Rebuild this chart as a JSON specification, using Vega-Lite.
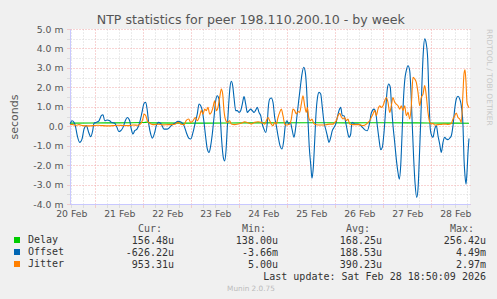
{
  "$schema": "https://vega.github.io/schema/vega-lite/v6.json",
  "background": "#f0f0f0",
  "padding": {"left": 8, "top": 14, "right": 5, "bottom": 4},
  "config": {"view": {"stroke": null}, "font": "DejaVu Sans"},
  "title": {"text": "NTP statistics for peer 198.110.200.10 - by week", "fontSize": 12.6, "fontWeight": "normal", "color": "#555555", "font": "DejaVu Sans", "anchor": "middle", "frame": "bounds", "offset": -2},
  "spacing": 19,
  "bounds": "flush",
  "resolve": {"scale": {"color": "independent"}, "legend": {"color": "independent"}},
  "datasets": {
    "series": [
      {"s": "Delay", "h": 11.35, "v": 0.16}, {"s": "Delay", "h": 30, "v": 0.17}, {"s": "Delay", "h": 48, "v": 0.19}, {"s": "Delay", "h": 50, "v": 0.21}, {"s": "Delay", "h": 52, "v": 0.17}, {"s": "Delay", "h": 80, "v": 0.16}, {"s": "Delay", "h": 100, "v": 0.17}, {"s": "Delay", "h": 130, "v": 0.18}, {"s": "Delay", "h": 150, "v": 0.17}, {"s": "Delay", "h": 170, "v": 0.18}, {"s": "Delay", "h": 185, "v": 0.17}, {"s": "Delay", "h": 200, "v": 0.16}, {"s": "Delay", "h": 210.85, "v": 0.156},

      {"s": "Offset", "h": 11.4, "v": 0.11}, {"s": "Offset", "h": 12.35, "v": 0.28}, {"s": "Offset", "h": 13.35, "v": 0.2}, {"s": "Offset", "h": 14.0, "v": 0.03}, {"s": "Offset", "h": 15.0, "v": -0.49}, {"s": "Offset", "h": 16.2, "v": -0.83}, {"s": "Offset", "h": 17.35, "v": -0.66}, {"s": "Offset", "h": 18.35, "v": -0.15}, {"s": "Offset", "h": 19.5, "v": 0.03}, {"s": "Offset", "h": 20.7, "v": -0.32}, {"s": "Offset", "h": 21.7, "v": -0.54}, {"s": "Offset", "h": 22.7, "v": -0.23}, {"s": "Offset", "h": 23.35, "v": 0.15}, {"s": "Offset", "h": 24.5, "v": 0.2}, {"s": "Offset", "h": 25.85, "v": 0.28}, {"s": "Offset", "h": 27.0, "v": 0.54}, {"s": "Offset", "h": 27.85, "v": 0.59}, {"s": "Offset", "h": 28.7, "v": 0.28}, {"s": "Offset", "h": 29.85, "v": 0.32}, {"s": "Offset", "h": 31.2, "v": 0.28}, {"s": "Offset", "h": 32.0, "v": 0.2}, {"s": "Offset", "h": 33.7, "v": 0.15}, {"s": "Offset", "h": 34.85, "v": -0.06}, {"s": "Offset", "h": 35.7, "v": -0.27}, {"s": "Offset", "h": 36.7, "v": -0.23}, {"s": "Offset", "h": 37.85, "v": -0.06}, {"s": "Offset", "h": 39.0, "v": 0.28}, {"s": "Offset", "h": 40.0, "v": 0.45}, {"s": "Offset", "h": 41.2, "v": 0.28}, {"s": "Offset", "h": 42.0, "v": -0.15}, {"s": "Offset", "h": 42.85, "v": -0.4}, {"s": "Offset", "h": 43.7, "v": -0.23}, {"s": "Offset", "h": 44.85, "v": -0.15}, {"s": "Offset", "h": 46.2, "v": 0.2}, {"s": "Offset", "h": 47.35, "v": 0.71}, {"s": "Offset", "h": 48.35, "v": 1.17}, {"s": "Offset", "h": 49.2, "v": 1.23}, {"s": "Offset", "h": 50.0, "v": 0.8}, {"s": "Offset", "h": 50.85, "v": 0.03}, {"s": "Offset", "h": 51.7, "v": -0.4}, {"s": "Offset", "h": 52.5, "v": -0.61}, {"s": "Offset", "h": 53.7, "v": -0.32}, {"s": "Offset", "h": 54.5, "v": 0.03}, {"s": "Offset", "h": 55.7, "v": 0.2}, {"s": "Offset", "h": 57.0, "v": 0.11}, {"s": "Offset", "h": 58.35, "v": -0.15}, {"s": "Offset", "h": 60.0, "v": -0.15}, {"s": "Offset", "h": 61.2, "v": -0.06}, {"s": "Offset", "h": 62.0, "v": 0.03}, {"s": "Offset", "h": 63.7, "v": 0.15}, {"s": "Offset", "h": 65.35, "v": 0.25}, {"s": "Offset", "h": 67.0, "v": 0.2}, {"s": "Offset", "h": 68.35, "v": 0.03}, {"s": "Offset", "h": 69.5, "v": -0.32}, {"s": "Offset", "h": 70.7, "v": -0.61}, {"s": "Offset", "h": 71.7, "v": -0.66}, {"s": "Offset", "h": 72.85, "v": -0.32}, {"s": "Offset", "h": 74.0, "v": 0.2}, {"s": "Offset", "h": 75.0, "v": 0.63}, {"s": "Offset", "h": 75.85, "v": 1.14}, {"s": "Offset", "h": 76.7, "v": 1.05}, {"s": "Offset", "h": 77.5, "v": 0.8}, {"s": "Offset", "h": 78.35, "v": 0.2}, {"s": "Offset", "h": 79.2, "v": -0.57}, {"s": "Offset", "h": 80.0, "v": -1.17}, {"s": "Offset", "h": 80.85, "v": -1.35}, {"s": "Offset", "h": 81.7, "v": -1.0}, {"s": "Offset", "h": 82.5, "v": -0.4}, {"s": "Offset", "h": 83.35, "v": 0.45}, {"s": "Offset", "h": 84.2, "v": 1.31}, {"s": "Offset", "h": 85.0, "v": 1.57}, {"s": "Offset", "h": 85.85, "v": 1.4}, {"s": "Offset", "h": 86.5, "v": 0.45}, {"s": "Offset", "h": 87.2, "v": -0.75}, {"s": "Offset", "h": 88.0, "v": -1.6}, {"s": "Offset", "h": 88.7, "v": -1.78}, {"s": "Offset", "h": 89.35, "v": -1.26}, {"s": "Offset", "h": 90.0, "v": -0.06}, {"s": "Offset", "h": 90.7, "v": 1.14}, {"s": "Offset", "h": 91.35, "v": 2.0}, {"s": "Offset", "h": 92.0, "v": 2.31}, {"s": "Offset", "h": 92.7, "v": 2.08}, {"s": "Offset", "h": 93.35, "v": 1.48}, {"s": "Offset", "h": 94.2, "v": 0.8}, {"s": "Offset", "h": 95.0, "v": 0.8}, {"s": "Offset", "h": 95.85, "v": 0.71}, {"s": "Offset", "h": 96.7, "v": 0.8}, {"s": "Offset", "h": 97.5, "v": 1.14}, {"s": "Offset", "h": 98.35, "v": 1.52}, {"s": "Offset", "h": 99.2, "v": 1.14}, {"s": "Offset", "h": 100.0, "v": 0.71}, {"s": "Offset", "h": 100.85, "v": 0.8}, {"s": "Offset", "h": 101.7, "v": 0.88}, {"s": "Offset", "h": 102.5, "v": 0.8}, {"s": "Offset", "h": 103.35, "v": 0.71}, {"s": "Offset", "h": 104.2, "v": 0.83}, {"s": "Offset", "h": 105.0, "v": 0.97}, {"s": "Offset", "h": 105.85, "v": 0.71}, {"s": "Offset", "h": 106.7, "v": 0.54}, {"s": "Offset", "h": 107.5, "v": 0.11}, {"s": "Offset", "h": 108.35, "v": -0.15}, {"s": "Offset", "h": 109.2, "v": -0.32}, {"s": "Offset", "h": 110.0, "v": 0.2}, {"s": "Offset", "h": 110.5, "v": 0.97}, {"s": "Offset", "h": 111.2, "v": 1.4}, {"s": "Offset", "h": 112.0, "v": 1.45}, {"s": "Offset", "h": 112.85, "v": 1.23}, {"s": "Offset", "h": 113.7, "v": 0.45}, {"s": "Offset", "h": 114.5, "v": 0.03}, {"s": "Offset", "h": 115.35, "v": -0.49}, {"s": "Offset", "h": 116.35, "v": -1.0}, {"s": "Offset", "h": 117.35, "v": -1.17}, {"s": "Offset", "h": 118.2, "v": -0.75}, {"s": "Offset", "h": 119.0, "v": 0.03}, {"s": "Offset", "h": 119.85, "v": 0.28}, {"s": "Offset", "h": 120.7, "v": 0.11}, {"s": "Offset", "h": 121.5, "v": 0.2}, {"s": "Offset", "h": 122.35, "v": -0.15}, {"s": "Offset", "h": 123.35, "v": -0.57}, {"s": "Offset", "h": 124.0, "v": -0.23}, {"s": "Offset", "h": 124.85, "v": 0.54}, {"s": "Offset", "h": 125.7, "v": 1.31}, {"s": "Offset", "h": 126.5, "v": 2.0}, {"s": "Offset", "h": 127.35, "v": 2.68}, {"s": "Offset", "h": 128.2, "v": 3.03}, {"s": "Offset", "h": 129.0, "v": 2.77}, {"s": "Offset", "h": 129.7, "v": 1.83}, {"s": "Offset", "h": 130.35, "v": 0.28}, {"s": "Offset", "h": 131.0, "v": -1.09}, {"s": "Offset", "h": 131.7, "v": -1.95}, {"s": "Offset", "h": 132.35, "v": -2.67}, {"s": "Offset", "h": 133.0, "v": -2.12}, {"s": "Offset", "h": 133.7, "v": -0.75}, {"s": "Offset", "h": 134.35, "v": 0.63}, {"s": "Offset", "h": 135.0, "v": 1.4}, {"s": "Offset", "h": 135.85, "v": 1.74}, {"s": "Offset", "h": 136.7, "v": 1.66}, {"s": "Offset", "h": 137.5, "v": 0.97}, {"s": "Offset", "h": 138.35, "v": 0.2}, {"s": "Offset", "h": 139.2, "v": -0.15}, {"s": "Offset", "h": 140.0, "v": -0.49}, {"s": "Offset", "h": 140.85, "v": -0.83}, {"s": "Offset", "h": 141.7, "v": -0.57}, {"s": "Offset", "h": 142.5, "v": -0.23}, {"s": "Offset", "h": 143.35, "v": -0.06}, {"s": "Offset", "h": 144.2, "v": 0.11}, {"s": "Offset", "h": 145.0, "v": 0.45}, {"s": "Offset", "h": 145.85, "v": 0.8}, {"s": "Offset", "h": 146.7, "v": 0.97}, {"s": "Offset", "h": 147.5, "v": 0.54}, {"s": "Offset", "h": 148.35, "v": 0.54}, {"s": "Offset", "h": 149.2, "v": 0.2}, {"s": "Offset", "h": 150.0, "v": -0.23}, {"s": "Offset", "h": 150.85, "v": -0.57}, {"s": "Offset", "h": 151.7, "v": -0.4}, {"s": "Offset", "h": 152.35, "v": 0.2}, {"s": "Offset", "h": 153.2, "v": 0.15}, {"s": "Offset", "h": 154.0, "v": 0.11}, {"s": "Offset", "h": 155.35, "v": 0.11}, {"s": "Offset", "h": 156.7, "v": 0.03}, {"s": "Offset", "h": 157.85, "v": -0.09}, {"s": "Offset", "h": 159.0, "v": -0.2}, {"s": "Offset", "h": 160.0, "v": -0.23}, {"s": "Offset", "h": 161.2, "v": 0.2}, {"s": "Offset", "h": 162.0, "v": 0.68}, {"s": "Offset", "h": 163.35, "v": 0.88}, {"s": "Offset", "h": 164.2, "v": 0.71}, {"s": "Offset", "h": 165.0, "v": 0.03}, {"s": "Offset", "h": 165.85, "v": -0.66}, {"s": "Offset", "h": 166.7, "v": -1.21}, {"s": "Offset", "h": 167.5, "v": -1.09}, {"s": "Offset", "h": 168.35, "v": -0.32}, {"s": "Offset", "h": 169.2, "v": 0.88}, {"s": "Offset", "h": 170.0, "v": 1.91}, {"s": "Offset", "h": 170.7, "v": 2.17}, {"s": "Offset", "h": 171.5, "v": 2.0}, {"s": "Offset", "h": 172.0, "v": 1.23}, {"s": "Offset", "h": 172.85, "v": 0.03}, {"s": "Offset", "h": 173.7, "v": -0.83}, {"s": "Offset", "h": 174.5, "v": -1.69}, {"s": "Offset", "h": 175.35, "v": -2.38}, {"s": "Offset", "h": 176.0, "v": -2.72}, {"s": "Offset", "h": 176.7, "v": -2.03}, {"s": "Offset", "h": 177.35, "v": -0.49}, {"s": "Offset", "h": 178.0, "v": 1.23}, {"s": "Offset", "h": 178.7, "v": 2.34}, {"s": "Offset", "h": 179.5, "v": 2.86}, {"s": "Offset", "h": 180.35, "v": 3.11}, {"s": "Offset", "h": 181.2, "v": 2.86}, {"s": "Offset", "h": 181.85, "v": 1.74}, {"s": "Offset", "h": 182.5, "v": 0.03}, {"s": "Offset", "h": 183.2, "v": -1.69}, {"s": "Offset", "h": 183.85, "v": -2.89}, {"s": "Offset", "h": 184.7, "v": -3.66}, {"s": "Offset", "h": 185.35, "v": -3.23}, {"s": "Offset", "h": 186.0, "v": -1.69}, {"s": "Offset", "h": 186.7, "v": 0.2}, {"s": "Offset", "h": 187.35, "v": 2.26}, {"s": "Offset", "h": 188.0, "v": 3.8}, {"s": "Offset", "h": 188.7, "v": 4.49}, {"s": "Offset", "h": 189.5, "v": 4.23}, {"s": "Offset", "h": 190.2, "v": 3.46}, {"s": "Offset", "h": 190.85, "v": 1.4}, {"s": "Offset", "h": 191.5, "v": -0.15}, {"s": "Offset", "h": 192.2, "v": -0.49}, {"s": "Offset", "h": 192.85, "v": -0.57}, {"s": "Offset", "h": 193.7, "v": -0.15}, {"s": "Offset", "h": 194.5, "v": 0.03}, {"s": "Offset", "h": 195.35, "v": -0.49}, {"s": "Offset", "h": 196.2, "v": -0.92}, {"s": "Offset", "h": 197.0, "v": -1.35}, {"s": "Offset", "h": 197.85, "v": -0.83}, {"s": "Offset", "h": 198.7, "v": -0.57}, {"s": "Offset", "h": 199.5, "v": -0.66}, {"s": "Offset", "h": 200.35, "v": -0.69}, {"s": "Offset", "h": 201.2, "v": -0.61}, {"s": "Offset", "h": 202.0, "v": -0.49}, {"s": "Offset", "h": 202.85, "v": 0.03}, {"s": "Offset", "h": 203.7, "v": 0.88}, {"s": "Offset", "h": 204.5, "v": 1.4}, {"s": "Offset", "h": 205.35, "v": 1.54}, {"s": "Offset", "h": 206.2, "v": 1.4}, {"s": "Offset", "h": 207.0, "v": 1.05}, {"s": "Offset", "h": 207.85, "v": 0.03}, {"s": "Offset", "h": 208.35, "v": -1.69}, {"s": "Offset", "h": 208.85, "v": -2.55}, {"s": "Offset", "h": 209.35, "v": -2.98}, {"s": "Offset", "h": 209.85, "v": -2.38}, {"s": "Offset", "h": 210.35, "v": -1.35}, {"s": "Offset", "h": 210.85, "v": -0.63},

      {"s": "Jitter", "h": 11.35, "v": 0.1}, {"s": "Jitter", "h": 12.85, "v": 0.08}, {"s": "Jitter", "h": 14.35, "v": 0.05}, {"s": "Jitter", "h": 15.85, "v": 0.08}, {"s": "Jitter", "h": 17.85, "v": 0.03}, {"s": "Jitter", "h": 20.35, "v": 0.02}, {"s": "Jitter", "h": 22.85, "v": 0.03}, {"s": "Jitter", "h": 25.35, "v": 0.05}, {"s": "Jitter", "h": 27.85, "v": 0.03}, {"s": "Jitter", "h": 30.35, "v": 0.02}, {"s": "Jitter", "h": 32.85, "v": 0.03}, {"s": "Jitter", "h": 35.35, "v": 0.05}, {"s": "Jitter", "h": 37.85, "v": 0.04}, {"s": "Jitter", "h": 40.35, "v": 0.03}, {"s": "Jitter", "h": 42.85, "v": 0.06}, {"s": "Jitter", "h": 45.35, "v": 0.05}, {"s": "Jitter", "h": 46.85, "v": 0.15}, {"s": "Jitter", "h": 47.85, "v": 0.4}, {"s": "Jitter", "h": 48.35, "v": 0.62}, {"s": "Jitter", "h": 49.2, "v": 0.55}, {"s": "Jitter", "h": 50.0, "v": 0.28}, {"s": "Jitter", "h": 51.2, "v": 0.15}, {"s": "Jitter", "h": 52.85, "v": 0.08}, {"s": "Jitter", "h": 55.35, "v": 0.1}, {"s": "Jitter", "h": 57.85, "v": 0.07}, {"s": "Jitter", "h": 60.35, "v": 0.08}, {"s": "Jitter", "h": 61.85, "v": 0.08}, {"s": "Jitter", "h": 63.85, "v": 0.1}, {"s": "Jitter", "h": 65.35, "v": 0.2}, {"s": "Jitter", "h": 66.85, "v": 0.1}, {"s": "Jitter", "h": 68.35, "v": 0.08}, {"s": "Jitter", "h": 69.5, "v": 0.3}, {"s": "Jitter", "h": 70.7, "v": 0.37}, {"s": "Jitter", "h": 71.7, "v": 0.2}, {"s": "Jitter", "h": 72.85, "v": 0.28}, {"s": "Jitter", "h": 74.0, "v": 0.45}, {"s": "Jitter", "h": 75.0, "v": 0.28}, {"s": "Jitter", "h": 76.2, "v": 0.54}, {"s": "Jitter", "h": 77.0, "v": 0.8}, {"s": "Jitter", "h": 77.85, "v": 0.62}, {"s": "Jitter", "h": 78.7, "v": 0.88}, {"s": "Jitter", "h": 79.5, "v": 0.8}, {"s": "Jitter", "h": 80.35, "v": 0.97}, {"s": "Jitter", "h": 81.2, "v": 0.62}, {"s": "Jitter", "h": 82.0, "v": 0.71}, {"s": "Jitter", "h": 82.85, "v": 0.97}, {"s": "Jitter", "h": 83.7, "v": 1.31}, {"s": "Jitter", "h": 84.5, "v": 0.8}, {"s": "Jitter", "h": 85.35, "v": 0.97}, {"s": "Jitter", "h": 86.2, "v": 1.48}, {"s": "Jitter", "h": 87.0, "v": 1.91}, {"s": "Jitter", "h": 87.7, "v": 1.65}, {"s": "Jitter", "h": 88.35, "v": 0.8}, {"s": "Jitter", "h": 89.0, "v": 0.37}, {"s": "Jitter", "h": 90.0, "v": 0.2}, {"s": "Jitter", "h": 91.2, "v": 0.28}, {"s": "Jitter", "h": 92.0, "v": 0.11}, {"s": "Jitter", "h": 93.7, "v": 0.08}, {"s": "Jitter", "h": 95.35, "v": 0.11}, {"s": "Jitter", "h": 97.0, "v": 0.15}, {"s": "Jitter", "h": 98.7, "v": 0.23}, {"s": "Jitter", "h": 100.35, "v": 0.18}, {"s": "Jitter", "h": 102.0, "v": 0.11}, {"s": "Jitter", "h": 103.7, "v": 0.2}, {"s": "Jitter", "h": 105.35, "v": 0.23}, {"s": "Jitter", "h": 107.0, "v": 0.2}, {"s": "Jitter", "h": 108.7, "v": 0.11}, {"s": "Jitter", "h": 110.35, "v": 0.45}, {"s": "Jitter", "h": 111.2, "v": 0.28}, {"s": "Jitter", "h": 112.0, "v": 0.11}, {"s": "Jitter", "h": 112.85, "v": 0.03}, {"s": "Jitter", "h": 113.7, "v": 0.2}, {"s": "Jitter", "h": 114.5, "v": 0.11}, {"s": "Jitter", "h": 115.35, "v": 0.45}, {"s": "Jitter", "h": 116.2, "v": 0.71}, {"s": "Jitter", "h": 117.0, "v": 0.88}, {"s": "Jitter", "h": 117.85, "v": 0.54}, {"s": "Jitter", "h": 118.7, "v": 0.11}, {"s": "Jitter", "h": 119.5, "v": 0.06}, {"s": "Jitter", "h": 120.35, "v": 0.08}, {"s": "Jitter", "h": 121.2, "v": 0.11}, {"s": "Jitter", "h": 122.0, "v": 0.37}, {"s": "Jitter", "h": 122.85, "v": 0.88}, {"s": "Jitter", "h": 123.7, "v": 0.8}, {"s": "Jitter", "h": 124.5, "v": 0.63}, {"s": "Jitter", "h": 125.35, "v": 0.76}, {"s": "Jitter", "h": 126.2, "v": 0.71}, {"s": "Jitter", "h": 127.0, "v": 1.14}, {"s": "Jitter", "h": 127.85, "v": 1.57}, {"s": "Jitter", "h": 128.7, "v": 1.05}, {"s": "Jitter", "h": 129.5, "v": 0.71}, {"s": "Jitter", "h": 130.0, "v": 0.97}, {"s": "Jitter", "h": 130.7, "v": 0.45}, {"s": "Jitter", "h": 131.5, "v": 0.28}, {"s": "Jitter", "h": 132.35, "v": 0.37}, {"s": "Jitter", "h": 133.2, "v": 0.15}, {"s": "Jitter", "h": 134.5, "v": 0.08}, {"s": "Jitter", "h": 136.2, "v": 0.06}, {"s": "Jitter", "h": 137.85, "v": 0.06}, {"s": "Jitter", "h": 139.5, "v": 0.08}, {"s": "Jitter", "h": 141.2, "v": 0.11}, {"s": "Jitter", "h": 142.85, "v": 0.11}, {"s": "Jitter", "h": 143.7, "v": 0.2}, {"s": "Jitter", "h": 144.5, "v": 0.28}, {"s": "Jitter", "h": 145.35, "v": 0.54}, {"s": "Jitter", "h": 146.2, "v": 0.66}, {"s": "Jitter", "h": 147.0, "v": 0.49}, {"s": "Jitter", "h": 147.85, "v": 0.37}, {"s": "Jitter", "h": 148.7, "v": 0.45}, {"s": "Jitter", "h": 149.5, "v": 0.28}, {"s": "Jitter", "h": 150.35, "v": 0.37}, {"s": "Jitter", "h": 151.2, "v": 0.11}, {"s": "Jitter", "h": 152.85, "v": 0.08}, {"s": "Jitter", "h": 154.5, "v": 0.08}, {"s": "Jitter", "h": 156.2, "v": 0.08}, {"s": "Jitter", "h": 157.85, "v": 0.03}, {"s": "Jitter", "h": 159.5, "v": 0.11}, {"s": "Jitter", "h": 160.35, "v": 0.2}, {"s": "Jitter", "h": 161.2, "v": 0.28}, {"s": "Jitter", "h": 162.0, "v": 0.45}, {"s": "Jitter", "h": 162.85, "v": 0.63}, {"s": "Jitter", "h": 163.7, "v": 0.8}, {"s": "Jitter", "h": 164.5, "v": 0.54}, {"s": "Jitter", "h": 165.35, "v": 0.88}, {"s": "Jitter", "h": 166.2, "v": 1.05}, {"s": "Jitter", "h": 167.0, "v": 0.97}, {"s": "Jitter", "h": 167.85, "v": 1.05}, {"s": "Jitter", "h": 168.7, "v": 1.31}, {"s": "Jitter", "h": 169.5, "v": 1.48}, {"s": "Jitter", "h": 170.35, "v": 1.23}, {"s": "Jitter", "h": 171.2, "v": 0.71}, {"s": "Jitter", "h": 172.0, "v": 1.05}, {"s": "Jitter", "h": 172.85, "v": 1.48}, {"s": "Jitter", "h": 173.7, "v": 1.23}, {"s": "Jitter", "h": 174.5, "v": 1.14}, {"s": "Jitter", "h": 175.35, "v": 1.05}, {"s": "Jitter", "h": 176.2, "v": 0.88}, {"s": "Jitter", "h": 177.0, "v": 1.05}, {"s": "Jitter", "h": 177.85, "v": 0.8}, {"s": "Jitter", "h": 178.7, "v": 1.05}, {"s": "Jitter", "h": 179.5, "v": 0.54}, {"s": "Jitter", "h": 180.35, "v": 0.71}, {"s": "Jitter", "h": 181.2, "v": 0.37}, {"s": "Jitter", "h": 182.0, "v": 1.05}, {"s": "Jitter", "h": 182.85, "v": 2.51}, {"s": "Jitter", "h": 183.7, "v": 2.43}, {"s": "Jitter", "h": 184.5, "v": 2.26}, {"s": "Jitter", "h": 185.35, "v": 1.74}, {"s": "Jitter", "h": 186.2, "v": 1.05}, {"s": "Jitter", "h": 187.0, "v": 1.48}, {"s": "Jitter", "h": 187.85, "v": 1.65}, {"s": "Jitter", "h": 188.7, "v": 2.09}, {"s": "Jitter", "h": 189.5, "v": 1.57}, {"s": "Jitter", "h": 190.35, "v": 0.71}, {"s": "Jitter", "h": 191.2, "v": 0.2}, {"s": "Jitter", "h": 192.0, "v": 0.11}, {"s": "Jitter", "h": 192.85, "v": 0.15}, {"s": "Jitter", "h": 193.7, "v": 0.06}, {"s": "Jitter", "h": 195.35, "v": 0.08}, {"s": "Jitter", "h": 197.0, "v": 0.09}, {"s": "Jitter", "h": 198.7, "v": 0.11}, {"s": "Jitter", "h": 200.35, "v": 0.09}, {"s": "Jitter", "h": 202.0, "v": 0.14}, {"s": "Jitter", "h": 202.85, "v": 0.37}, {"s": "Jitter", "h": 203.7, "v": 0.54}, {"s": "Jitter", "h": 204.5, "v": 0.68}, {"s": "Jitter", "h": 205.35, "v": 0.45}, {"s": "Jitter", "h": 206.2, "v": 0.37}, {"s": "Jitter", "h": 207.0, "v": 0.2}, {"s": "Jitter", "h": 207.85, "v": 1.74}, {"s": "Jitter", "h": 208.35, "v": 2.69}, {"s": "Jitter", "h": 208.85, "v": 2.9}, {"s": "Jitter", "h": 209.35, "v": 2.26}, {"s": "Jitter", "h": 209.85, "v": 1.23}, {"s": "Jitter", "h": 210.35, "v": 1.05}, {"s": "Jitter", "h": 210.85, "v": 0.95}
    ],
    "table": [
      {"row": "header", "col": "Cur", "text": "Cur:"}, {"row": "header", "col": "Min", "text": "Min:"}, {"row": "header", "col": "Avg", "text": "Avg:"}, {"row": "header", "col": "Max", "text": "Max:"},
      {"row": "Delay", "col": "Cur", "text": "156.48u"}, {"row": "Delay", "col": "Min", "text": "138.00u"}, {"row": "Delay", "col": "Avg", "text": "168.25u"}, {"row": "Delay", "col": "Max", "text": "256.42u"},
      {"row": "Offset", "col": "Cur", "text": "-626.22u"}, {"row": "Offset", "col": "Min", "text": "-3.66m"}, {"row": "Offset", "col": "Avg", "text": "188.53u"}, {"row": "Offset", "col": "Max", "text": "4.49m"},
      {"row": "Jitter", "col": "Cur", "text": "953.31u"}, {"row": "Jitter", "col": "Min", "text": "5.00u"}, {"row": "Jitter", "col": "Avg", "text": "390.23u"}, {"row": "Jitter", "col": "Max", "text": "2.97m"},
      {"row": "update", "col": "Max", "text": "Last update: Sat Feb 28 18:50:09 2026"},
      {"row": "munin", "col": "Min", "text": "Munin 2.0.75"}
    ]
  },
  "vconcat": [
    {
      "width": 400,
      "height": 175,
      "view": {"fill": "white", "stroke": null},
      "title": {"text": "RRDTOOL / TOBI OETIKER", "orient": "right", "anchor": "start", "fontSize": 7.5, "fontWeight": "normal", "color": "#c8c8c8", "offset": 14, "frame": "group"},
      "data": {"name": "series"},
      "encoding": {
        "x": {
          "field": "h", "type": "quantitative",
          "scale": {"domain": [11.35, 211.35], "nice": false, "zero": false},
          "axis": {
            "title": null,
            "values": [12, 18, 24, 30, 36, 42, 48, 54, 60, 66, 72, 78, 84, 90, 96, 102, 108, 114, 120, 126, 132, 138, 144, 150, 156, 162, 168, 174, 180, 186, 192, 198, 204, 210],
            "grid": true, "gridDash": [1, 2], "gridWidth": 1,
            "gridColor": {"condition": {"test": "datum.value % 24 === 0", "value": "#f0a8a8"}, "value": "#d6d6d6"},
            "ticks": true, "tickSize": 3, "tickDash": [1, 1],
            "tickColor": {"condition": {"test": "datum.value % 24 === 0", "value": "#f0a8a8"}, "value": "#c8c8c8"},
            "domainColor": "#c8c8ff", "domainWidth": 1,
            "labelExpr": "datum.value % 24 === 12 ? (floor(datum.value / 24) + 20) + ' Feb' : ''",
            "labelFlush": false, "labelOverlap": false, "labelBound": false,
            "labelFont": "DejaVu Sans", "labelFontSize": 9.3, "labelColor": "#555555", "labelPadding": 2
          }
        },
        "y": {
          "field": "v", "type": "quantitative",
          "scale": {"domain": [-4, 5], "nice": false, "zero": false},
          "axis": {
            "title": "seconds", "titleFont": "DejaVu Sans", "titleFontSize": 11, "titleFontWeight": "normal", "titleColor": "#555555", "titlePadding": 13,
            "values": [-4, -3.5, -3, -2.5, -2, -1.5, -1, -0.5, 0, 0.5, 1, 1.5, 2, 2.5, 3, 3.5, 4, 4.5, 5],
            "grid": true, "gridDash": [1, 2], "gridWidth": 1,
            "gridColor": {"condition": {"test": "datum.value % 1 === 0", "value": "#f0a8a8"}, "value": "#d6d6d6"},
            "ticks": true, "tickSize": 3, "tickDash": [1, 1],
            "tickColor": {"condition": {"test": "datum.value % 1 === 0", "value": "#f0a8a8"}, "value": "#c8c8c8"},
            "domainColor": "#c8c8ff", "domainWidth": 1,
            "labelExpr": "datum.value % 1 !== 0 ? '' : (datum.value === 0 ? '0.0' : (datum.value < 0 ? '-' : '') + format(abs(datum.value), '.1f') + ' m')",
            "labelOverlap": false, "labelFlush": false, "labelBound": false,
            "labelFont": "DejaVu Sans", "labelFontSize": 9.3, "labelColor": "#555555", "labelPadding": 4
          }
        },
        "color": {"field": "s", "type": "nominal", "scale": {"domain": ["Delay", "Offset", "Jitter"], "range": ["#00cc00", "#0066b3", "#ff8000"]}, "legend": null}
      },
      "layer": [
        {"transform": [{"filter": "datum.s === 'Delay'"}], "mark": {"type": "line", "strokeWidth": 1.1, "interpolate": "monotone"}},
        {"transform": [{"filter": "datum.s === 'Offset'"}], "mark": {"type": "line", "strokeWidth": 1.1, "interpolate": "monotone"}},
        {"transform": [{"filter": "datum.s === 'Jitter'"}], "mark": {"type": "line", "strokeWidth": 1.1, "interpolate": "monotone"}}
      ]
    },
    {
      "width": 416,
      "height": 72,
      "view": {"stroke": null},
      "data": {"name": "table"},
      "encoding": {
        "x": {"field": "col", "type": "nominal", "bandPosition": 1, "scale": {"type": "band", "domain": ["Cur", "Min", "Avg", "Max"], "paddingInner": 0, "paddingOuter": 0}, "axis": null},
        "y": {"field": "row", "type": "nominal", "scale": {"type": "band", "domain": ["header", "Delay", "Offset", "Jitter", "update", "munin"], "paddingInner": 0, "paddingOuter": 0}, "axis": null}
      },
      "layer": [
        {
          "transform": [{"filter": "datum.row !== 'header' && datum.row !== 'munin'"}],
          "mark": {"type": "text", "align": "right", "baseline": "middle", "font": "DejaVu Sans Mono", "fontSize": 10, "color": "#333333"},
          "encoding": {"text": {"field": "text"}}
        },
        {
          "transform": [{"filter": "datum.row === 'header'"}],
          "mark": {"type": "text", "align": "right", "baseline": "middle", "font": "DejaVu Sans Mono", "fontSize": 10, "color": "#555555", "dx": -12},
          "encoding": {"text": {"field": "text"}}
        },
        {
          "transform": [{"filter": "datum.row === 'munin'"}],
          "mark": {"type": "text", "align": "center", "baseline": "middle", "font": "DejaVu Sans", "fontSize": 7.3, "color": "#bbbbbb"},
          "encoding": {"text": {"field": "text"}, "x": {"field": "col", "type": "nominal", "bandPosition": 0.74}}
        },
        {
          "transform": [{"filter": "datum.col === 'Cur' && datum.row !== 'header'"}],
          "mark": {"type": "point", "shape": "square", "filled": true, "opacity": 0},
          "encoding": {
            "color": {
              "field": "row", "type": "nominal",
              "scale": {"domain": ["Delay", "Offset", "Jitter"], "range": ["#00cc00", "#0066b3", "#ff8000"]},
              "legend": {"orient": "left", "title": " ", "titleFontSize": 10, "titlePadding": 2, "symbolType": "square", "symbolSize": 36, "symbolOpacity": 1, "symbolStrokeWidth": 0, "labelFont": "DejaVu Sans Mono", "labelFontSize": 10, "labelColor": "#333333", "labelOffset": 6, "rowPadding": 2, "padding": 0, "offset": 5}
            }
          }
        }
      ]
    }
  ]
}
